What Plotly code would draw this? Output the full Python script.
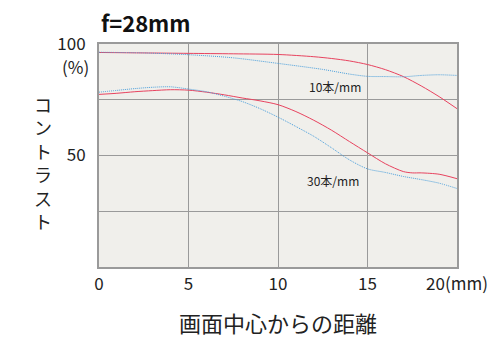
import plotly.graph_objects as go

# ---- data ----
x10_red = [0, 2.5, 5, 7.5, 10, 12, 13, 14, 15, 16, 17, 18, 19, 20]
y10_red = [96.2, 96.0, 95.8, 95.6, 95.3, 94.3, 93.5, 92.4, 90.8, 88.5, 85.4, 81.2, 76.4, 71.0]

x10_blue = [0, 2.5, 5, 7.5, 10, 12.5, 14, 15, 16, 17, 18, 19, 20]
y10_blue = [96.3, 96.0, 95.2, 93.8, 91.3, 88.6, 86.5, 85.5, 85.4, 85.3, 85.9, 86.2, 85.9]

x30_red = [0, 1, 2, 3, 4, 5, 6, 7, 8, 9, 10, 11, 12, 13, 14, 15, 16, 17, 17.5, 18, 19, 20]
y30_red = [77.4, 77.9, 78.6, 79.1, 79.5, 79.3, 78.4, 77.2, 75.8, 74.5, 72.8, 69.7, 65.8, 61.3, 56.2, 51.2, 46.3, 42.8, 42.2, 42.2, 41.6, 39.6]

x30_blue = [0, 1, 2, 3, 4, 5, 6, 7, 8, 9, 10, 11, 12, 13, 14, 15, 16, 17, 18, 19, 20]
y30_blue = [78.4, 79.2, 80.0, 80.6, 80.8, 79.8, 78.6, 76.6, 74.2, 71.0, 67.2, 63.0, 58.6, 53.4, 48.0, 44.0, 42.4, 40.6, 39.2, 37.6, 35.2]

x_tickvals = [0, 5, 10, 15, 20]
x_ticktext = ["0", "5", "10", "15", "20(mm)"]
y_tickvals = [0, 25, 50, 75, 100]
y_ticktext = ["", "", "50", "", "100"]

title_text = "f=28mm"
x_title = "画面中心からの距離"
y_title = "コントラスト"
label_10 = "10本/mm"
label_30 = "30本/mm"

RED = "#e8435f"
BLUE = "#4a9fdc"
FONT = "Noto Sans CJK JP"

fig = go.Figure()
for xs, ys, col, dash in [
    (x10_red, y10_red, RED, "solid"),
    (x10_blue, y10_blue, BLUE, "1px,1px"),
    (x30_red, y30_red, RED, "solid"),
    (x30_blue, y30_blue, BLUE, "1px,1px"),
]:
    fig.add_trace(go.Scatter(x=xs, y=ys, mode="lines",
                             line=dict(color=col, width=1, dash=dash, shape="spline", smoothing=0.8),
                             showlegend=False, hoverinfo="skip"))

fig.update_layout(
    width=500, height=351,
    margin=dict(l=99, r=41, t=44, b=84),
    paper_bgcolor="white",
    plot_bgcolor="#f0efeb",
    font=dict(family=FONT, color="#222222", size=17),
    showlegend=False,
)
fig.update_xaxes(range=[0, 20], tickvals=x_tickvals, ticktext=x_ticktext,
                 showgrid=True, gridcolor="#9a9a9a", gridwidth=1,
                 showline=True, linecolor="#9a9a9a", linewidth=2, mirror=True,
                 zeroline=False, ticks="", ticklabelstandoff=1,
                 tickfont=dict(family=FONT, size=17, color="#222"))
fig.update_yaxes(range=[0, 100], tickvals=y_tickvals, ticktext=y_ticktext,
                 showgrid=True, gridcolor="#9a9a9a", gridwidth=1,
                 showline=True, linecolor="#9a9a9a", linewidth=2, mirror=True,
                 zeroline=False, ticks="", ticklabelstandoff=8,
                 tickfont=dict(family=FONT, size=17, color="#222"))

anns = []
anns.append(dict(text="<b>" + title_text + "</b>", xref="paper", yref="paper",
                 x=0.0, y=1.0, xanchor="left", yanchor="bottom", yshift=4,
                 showarrow=False, font=dict(family=FONT, size=22, color="#111")))
anns.append(dict(text="(%)", xref="paper", yref="y", x=0, y=100, xanchor="right",
                 yanchor="middle", xshift=-8, yshift=-22, showarrow=False,
                 font=dict(family=FONT, size=17, color="#222")))
anns.append(dict(text=x_title, xref="paper", yref="paper", x=0.5, y=0,
                 xanchor="center", yanchor="middle", yshift=-55, showarrow=False,
                 font=dict(family=FONT, size=22, color="#222")))
# vertical y title, upright characters stacked in one text
anns.append(dict(text="<br>".join(y_title), xref="paper", yref="paper", x=0,
                 xanchor="center", y=(267 - 162) / 223, yanchor="middle",
                 xshift=-56, showarrow=False, align="center",
                 font=dict(family=FONT, size=18, color="#222")))
anns.append(dict(text=label_10, x=13.2, y=81, xref="x", yref="y", showarrow=False,
                 font=dict(family=FONT, size=12, color="#222")))
anns.append(dict(text=label_30, x=13.1, y=39, xref="x", yref="y", showarrow=False,
                 font=dict(family=FONT, size=12, color="#222")))
fig.update_layout(annotations=anns)

fig.write_html("out.html")
